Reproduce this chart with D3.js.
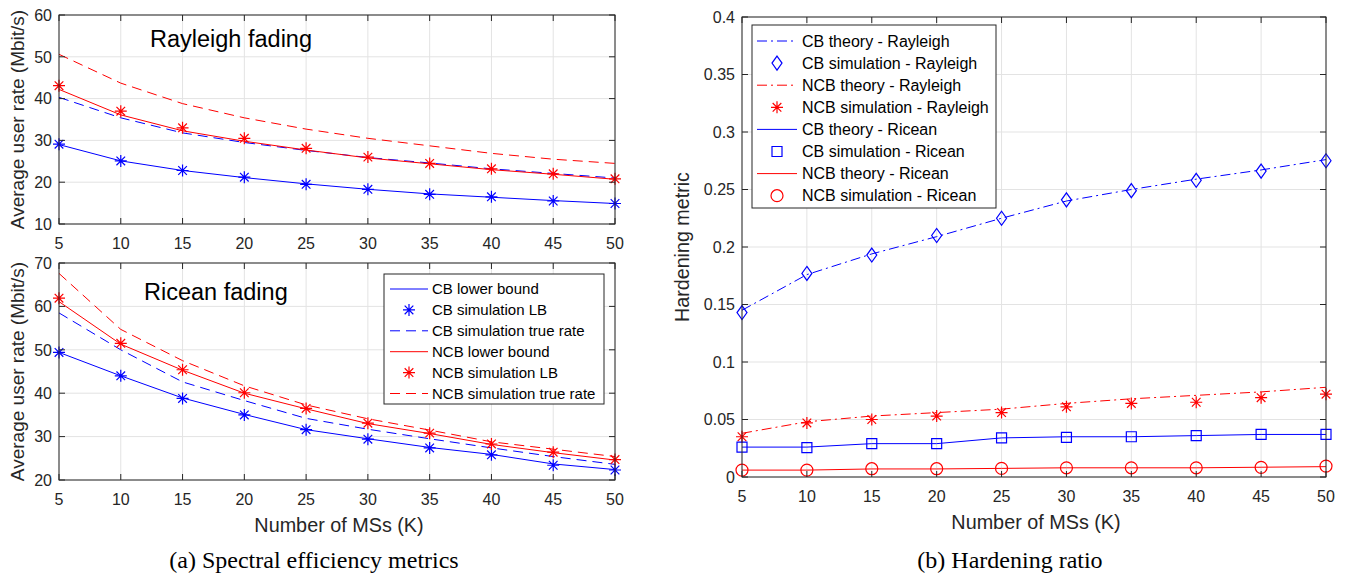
<!DOCTYPE html>
<html>
<head>
<meta charset="utf-8">
<script src="https://cdn.jsdelivr.net/npm/d3@7"></script>
<style>
body{margin:0;background:#fff}
text{font-family:"Liberation Sans",Arial,sans-serif;fill:#262626}
.cap{font-family:"Liberation Serif","Times New Roman",serif;fill:#000}
</style>
</head>
<body>
<svg id="chart" width="1347" height="577"></svg>
<script>
// number of MSs
var K = [5,10,15,20,25,30,35,40,45,50];

// (a) Rayleigh fading
var rayCbLb      = [29.0,25.1,22.8,21.1,19.6,18.3,17.2,16.4,15.6,14.9];
var rayCbSimLb   = [29.1,25.1,22.8,21.2,19.5,18.3,17.1,16.5,15.5,14.9];
var rayCbTrue    = [40.3,35.4,31.8,29.5,27.6,25.9,24.6,23.2,22.1,21.0];
var rayNcbLb     = [42.2,36.1,32.3,29.8,27.7,25.8,24.4,23.0,21.9,20.7];
var rayNcbSimLb  = [43.1,37.0,33.0,30.5,28.1,26.0,24.5,23.2,22.0,20.8];
var rayNcbTrue   = [50.6,43.7,38.8,35.4,32.7,30.5,28.7,26.9,25.5,24.5];

// (a) Ricean fading
var ricCbLb      = [49.4,44.0,38.9,35.1,31.6,29.5,27.5,25.9,23.7,22.4];
var ricCbSimLb   = [49.4,44.0,38.8,35.0,31.6,29.4,27.4,25.8,23.4,22.3];
var ricCbTrue    = [58.5,50.0,42.6,38.3,34.2,31.7,29.5,27.4,25.4,23.6];
var ricNcbLb     = [61.1,51.3,45.3,40.0,36.4,33.0,30.7,28.2,26.3,24.6];
var ricNcbSimLb  = [61.9,51.5,45.4,40.1,36.5,33.1,30.8,28.3,26.4,24.7];
var ricNcbTrue   = [67.6,54.7,47.5,41.7,37.3,34.1,31.5,28.8,27.1,25.4];

// (b) hardening metric
var hCbRayTh   = [0.145,0.176,0.194,0.209,0.225,0.240,0.250,0.259,0.267,0.276];
var hCbRaySim  = [0.143,0.177,0.193,0.210,0.225,0.241,0.249,0.258,0.266,0.275];
var hNcbRayTh  = [0.038,0.048,0.053,0.056,0.059,0.064,0.068,0.071,0.074,0.078];
var hNcbRaySim = [0.035,0.047,0.050,0.053,0.056,0.061,0.064,0.065,0.069,0.072];
var hCbRicTh   = [0.026,0.026,0.029,0.029,0.034,0.035,0.035,0.036,0.037,0.037];
var hCbRicSim  = [0.026,0.0255,0.029,0.029,0.034,0.0345,0.035,0.036,0.037,0.037];
var hNcbRicTh  = [0.006,0.006,0.007,0.007,0.0075,0.008,0.008,0.008,0.0085,0.009];
var hNcbRicSim = [0.006,0.006,0.0072,0.0072,0.0075,0.008,0.008,0.008,0.0084,0.0095];

var xTicks = K;
var legendA = ["CB lower bound","CB simulation LB","CB simulation true rate","NCB lower bound","NCB simulation LB","NCB simulation true rate"];
var legendB = ["CB theory - Rayleigh","CB simulation - Rayleigh","NCB theory - Rayleigh","NCB simulation - Rayleigh","CB theory - Ricean","CB simulation - Ricean","NCB theory - Ricean","NCB simulation - Ricean"];

var BLUE = "#0000ff", RED = "#ff0000", AX = "#262626", GRID = "#e3e3e3";
var DASH = "10,6", DASHDOT = "10,4,2,4";

var svg = d3.select("#chart");

function markerPath(type){
	if(type=="star"){
		var r=6, d=r*0.72;
		return "M"+(-r)+",0L"+r+",0M0,"+(-r)+"L0,"+r+"M"+(-d)+","+(-d)+"L"+d+","+d+"M"+(-d)+","+d+"L"+d+","+(-d);
	}
	if(type=="diamond") return "M0,-7L5,0L0,7L-5,0Z";
	if(type=="square") return "M-5,-5L5,-5L5,5L-5,5Z";
	if(type=="circle") return "M6,0A6,6 0 1,1 -6,0A6,6 0 1,1 6,0Z";
	return "";
}

function drawPanel(p){
	var x = d3.scaleLinear().domain([5,50]).range([p.x0,p.x1]);
	var y = d3.scaleLinear().domain(p.ydom).range([p.y1,p.y0]);
	var g = svg.append("g");

	// grid
	g.selectAll(".gx").data(xTicks).enter().append("line")
		.attr("x1",d=>x(d)).attr("x2",d=>x(d)).attr("y1",p.y0).attr("y2",p.y1)
		.attr("stroke",GRID).attr("stroke-width",1);
	g.selectAll(".gy").data(p.yticks).enter().append("line")
		.attr("y1",d=>y(d)).attr("y2",d=>y(d)).attr("x1",p.x0).attr("x2",p.x1)
		.attr("stroke",GRID).attr("stroke-width",1);

	// series
	var line = d3.line().x((d,i)=>x(K[i])).y(d=>y(d));
	p.series.forEach(function(s){
		if(s.line){
			g.append("path").attr("d",line(s.values)).attr("fill","none")
				.attr("stroke",s.color).attr("stroke-width",1)
				.attr("stroke-dasharray",s.dash||null);
		}
		if(s.marker){
			g.selectAll(null).data(s.values).enter().append("path")
				.attr("d",markerPath(s.marker))
				.attr("transform",(d,i)=>"translate("+x(K[i])+","+y(d)+")")
				.attr("fill","none").attr("stroke",s.color).attr("stroke-width",1.2);
		}
	});

	// box and ticks (inside)
	g.append("rect").attr("x",p.x0).attr("y",p.y0).attr("width",p.x1-p.x0).attr("height",p.y1-p.y0)
		.attr("fill","none").attr("stroke",AX).attr("stroke-width",1);
	var tl = 6;
	xTicks.forEach(function(t){
		g.append("line").attr("x1",x(t)).attr("x2",x(t)).attr("y1",p.y1).attr("y2",p.y1-tl).attr("stroke",AX);
		g.append("line").attr("x1",x(t)).attr("x2",x(t)).attr("y1",p.y0).attr("y2",p.y0+tl).attr("stroke",AX);
		g.append("text").attr("x",x(t)).attr("y",p.y1+25).attr("text-anchor","middle")
			.style("font-size","16px").text(t);
	});
	p.yticks.forEach(function(t){
		g.append("line").attr("x1",p.x0).attr("x2",p.x0+tl).attr("y1",y(t)).attr("y2",y(t)).attr("stroke",AX);
		g.append("line").attr("x1",p.x1).attr("x2",p.x1-tl).attr("y1",y(t)).attr("y2",y(t)).attr("stroke",AX);
		g.append("text").attr("x",p.x0-7).attr("y",y(t)).attr("dy","0.36em").attr("text-anchor","end")
			.style("font-size","16px").text(p.fmt(t));
	});

	// y label
	g.append("text").attr("transform","translate("+p.ylx+","+((p.y0+p.y1)/2)+") rotate(-90)")
		.attr("text-anchor","middle").style("font-size",p.ylfs).text(p.ylabel);
	if(p.xlabel){
		g.append("text").attr("x",(p.x0+p.x1)/2 + 2).attr("y",p.y1+52).attr("text-anchor","middle")
			.style("font-size","19.8px").text(p.xlabel);
	}
	if(p.title){
		g.append("text").attr("x",p.tx).attr("y",p.ty).style("font-size","23.5px")
			.style("fill","#000").text(p.title);
	}
	if(p.legend){
		var L = p.legend;
		g.append("rect").attr("x",L.x).attr("y",L.y).attr("width",L.w).attr("height",L.h)
			.attr("fill","#fff").attr("stroke",AX).attr("stroke-width",1);
		L.items.forEach(function(it,i){
			var cy = L.y + L.pad + i*L.step;
			var s = it.s;
			if(s.line){
				g.append("line").attr("x1",L.x+L.lx0).attr("x2",L.x+L.lx1).attr("y1",cy).attr("y2",cy)
					.attr("stroke",s.color).attr("stroke-dasharray",s.dash||null);
			}
			if(s.marker){
				g.append("path").attr("d",markerPath(s.marker))
					.attr("transform","translate("+(L.x+(L.lx0+L.lx1)/2)+","+cy+")")
					.attr("fill","none").attr("stroke",s.color).attr("stroke-width",1.2);
			}
			g.append("text").attr("x",L.x+L.tx).attr("y",cy).attr("dy","0.36em")
				.style("font-size",L.fs).style("fill","#000").text(it.label);
		});
	}
}

var sA = [
	{values:rayCbLb,color:BLUE,line:true},
	{values:rayCbSimLb,color:BLUE,marker:"star"},
	{values:rayCbTrue,color:BLUE,line:true,dash:DASH},
	{values:rayNcbLb,color:RED,line:true},
	{values:rayNcbSimLb,color:RED,marker:"star"},
	{values:rayNcbTrue,color:RED,line:true,dash:DASH}
];
var sA2 = [
	{values:ricCbLb,color:BLUE,line:true},
	{values:ricCbSimLb,color:BLUE,marker:"star"},
	{values:ricCbTrue,color:BLUE,line:true,dash:DASH},
	{values:ricNcbLb,color:RED,line:true},
	{values:ricNcbSimLb,color:RED,marker:"star"},
	{values:ricNcbTrue,color:RED,line:true,dash:DASH}
];
var sB = [
	{values:hCbRayTh,color:BLUE,line:true,dash:DASHDOT},
	{values:hCbRaySim,color:BLUE,marker:"diamond"},
	{values:hNcbRayTh,color:RED,line:true,dash:DASHDOT},
	{values:hNcbRaySim,color:RED,marker:"star"},
	{values:hCbRicTh,color:BLUE,line:true},
	{values:hCbRicSim,color:BLUE,marker:"square"},
	{values:hNcbRicTh,color:RED,line:true},
	{values:hNcbRicSim,color:RED,marker:"circle"}
];

var fmtInt = d3.format("d");
drawPanel({x0:59,x1:615,y0:15,y1:224,ydom:[10,60],yticks:[10,20,30,40,50,60],fmt:fmtInt,
	ylx:24,ylfs:"19px",ylabel:"Average user rate (Mbit/s)",series:sA,title:"Rayleigh fading",tx:150,ty:47});
drawPanel({x0:59,x1:615,y0:263,y1:480,ydom:[20,70],yticks:[20,30,40,50,60,70],fmt:fmtInt,
	ylx:24,ylfs:"19px",ylabel:"Average user rate (Mbit/s)",series:sA2,title:"Ricean fading",tx:144,ty:300,
	xlabel:"Number of MSs (K)",
	legend:{x:384,y:274,w:220,h:130,pad:15,step:20.9,lx0:6,lx1:44,tx:48,fs:"15px",
		items:legendA.map((l,i)=>({label:l,s:sA2[i]}))}});
drawPanel({x0:742,x1:1326,y0:17,y1:477,ydom:[0,0.4],yticks:d3.range(0,9).map(i=>i*0.05),fmt:d3.format(".2~f"),
	ylx:689,ylfs:"19.7px",ylabel:"Hardening metric",series:sB,xlabel:"Number of MSs (K)",
	legend:{x:752,y:25,w:244,h:183,pad:16,step:22.1,lx0:5,lx1:45,tx:50,fs:"16px",
		items:legendB.map((l,i)=>({label:l,s:sB[i]}))}});

svg.append("text").attr("class","cap").attr("x",314).attr("y",568).attr("text-anchor","middle")
	.style("font-size","24px").text("(a) Spectral efficiency metrics");
svg.append("text").attr("class","cap").attr("x",1010).attr("y",568).attr("text-anchor","middle")
	.style("font-size","24px").text("(b) Hardening ratio");
</script>
</body>
</html>
